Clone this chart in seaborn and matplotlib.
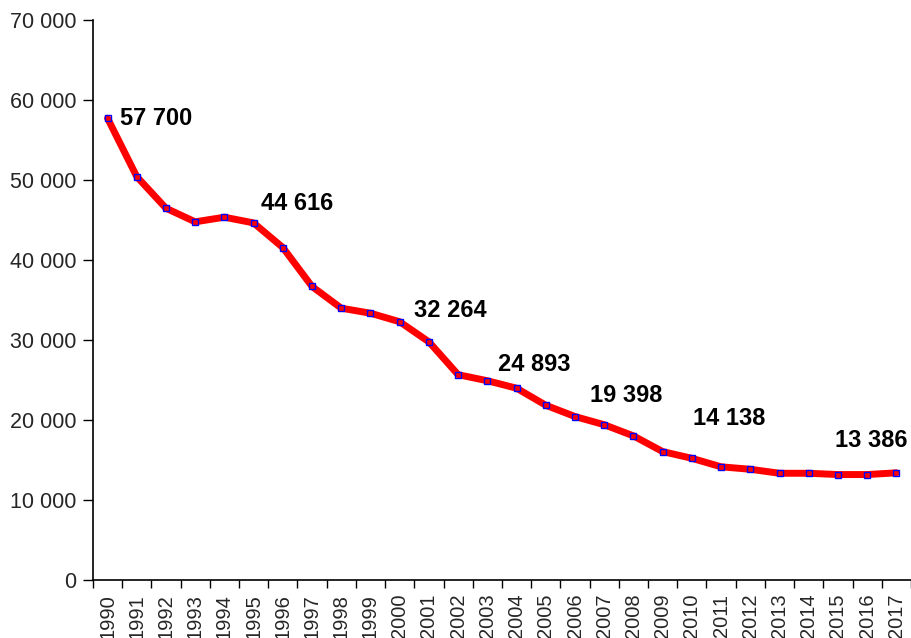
import matplotlib
matplotlib.use("Agg")
import matplotlib.pyplot as plt
import pandas as pd
import seaborn as sns
from matplotlib.ticker import FixedLocator, FuncFormatter

years = list(range(1990, 2018))
values = [
    57700, 50400, 46450, 44750, 45330, 44616, 41540, 36670, 33960, 33330,
    32264, 29750, 25650, 24893, 23960, 21830, 20420, 19398, 18000, 16040,
    15200, 14138, 13830, 13330, 13330, 13170, 13170, 13386,
]
label_years = [1990, 1995, 2000, 2003, 2007, 2011, 2017]
label_offsets = [(9, 0), (5, 14), (10, 8), (8, 12), (-10, 21), (-20, 35), (-44, 23)]

sns.set_style("ticks")
plt.rcParams["font.family"] = ["Liberation Sans", "DejaVu Sans"]


def space_thousands(v, _pos=None):
    return f"{int(round(v)):,}".replace(",", " ")


df = pd.DataFrame({"year": years, "value": values})

fig = plt.figure(figsize=(9.11, 6.38), dpi=100)
ax = fig.add_axes([0.102, 0.091, 0.898, 0.878])

sns.lineplot(
    data=df, x="year", y="value", ax=ax,
    color="#ff0000", linewidth=5, marker="s", markersize=4,
    markerfacecolor="none", markeredgecolor="#0000ff", markeredgewidth=1,
)

for yr, (dx, dy) in zip(label_years, label_offsets):
    v = values[years.index(yr)]
    ax.annotate(space_thousands(v), xy=(yr, v), xytext=(dx, dy),
                textcoords="offset points", ha="left", va="center",
                fontsize=17, fontweight="bold", color="black",
                annotation_clip=False)

ax.set_xlim(years[0] - 0.5, years[-1] + 0.5)
ax.set_ylim(0, 70000)
ax.set_yticks(range(0, 70001, 10000))
ax.yaxis.set_major_formatter(FuncFormatter(space_thousands))

ax.set_xticks(years)
ax.set_xticklabels([str(y) for y in years], rotation=90)
ax.xaxis.set_minor_locator(FixedLocator([y - 0.5 for y in years] + [years[-1] + 0.5]))
ax.tick_params(axis="x", which="major", length=0, labelsize=14.5, pad=10)
ax.tick_params(axis="x", which="minor", length=6, width=1, color="black", direction="out")
ax.tick_params(axis="y", length=7, width=1, color="black", labelsize=15.5, pad=5)

ax.set_xlabel("")
ax.set_ylabel("")
sns.despine(ax=ax)
for side in ("left", "bottom"):
    ax.spines[side].set_color("black")
    ax.spines[side].set_linewidth(1.2)

fig.savefig("out.png", dpi=100)
